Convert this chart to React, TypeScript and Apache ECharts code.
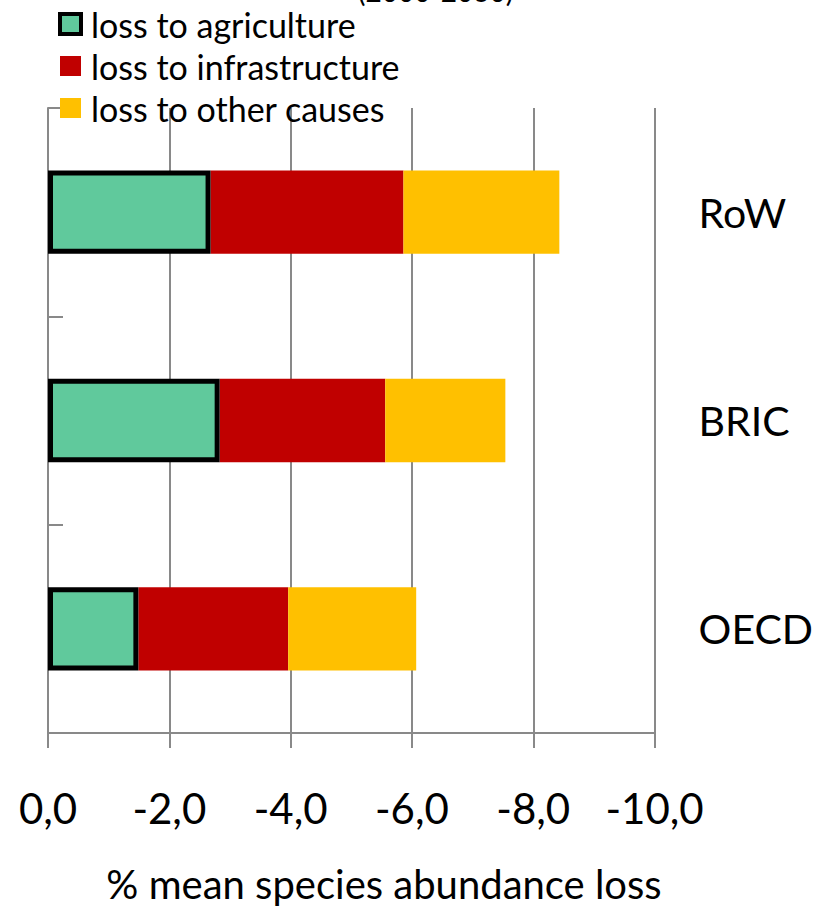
import React, { useEffect, useRef } from "react";
import * as echarts from "echarts";

const categories = ["OECD", "BRIC", "RoW"];
const seriesNames = ["loss to agriculture", "loss to infrastructure", "loss to other causes"];
const agriculture = [-1.49, -2.83, -2.68];
const infrastructure = [-2.47, -2.73, -3.18];
const otherCauses = [-2.11, -1.98, -2.57];
const xTicks = { min: -10, max: 0, interval: 2 };
const axisTitle = "% mean species abundance loss";
const chartTitle = "(2000-2030)";

const FONT = "Lato";
const GRAY = "#898989";

export default function App() {
  const ref = useRef<HTMLDivElement>(null);
  useEffect(() => {
    document.body.style.margin = "0";
    const chart = echarts.init(ref.current!, undefined, { renderer: "svg" });
    chart.setOption({
      animation: false,
      textStyle: { fontFamily: FONT, color: "#000" },
      legend: {
        orient: "vertical",
        left: 58,
        top: 7,
        padding: 0,
        itemWidth: 21,
        itemHeight: 20,
        itemGap: 8,
        icon: "rect",
        textStyle: { fontFamily: FONT, fontSize: 34, lineHeight: 34, color: "#000", padding: [0, 0, 0, 5] },
        data: [
          { name: seriesNames[0], itemStyle: { borderColor: "#000", borderWidth: 4 } },
          { name: seriesNames[1], itemStyle: { borderWidth: 0 } },
          { name: seriesNames[2], itemStyle: { borderWidth: 0 } },
        ],
      },
      grid: { left: 48, right: 157, top: 108, bottom: 176, containLabel: false },
      xAxis: {
        type: "value",
        min: xTicks.min,
        max: xTicks.max,
        interval: xTicks.interval,
        inverse: true,
        axisLine: { show: true, lineStyle: { color: GRAY, width: 2 } },
        axisTick: { show: true, length: 15, lineStyle: { color: GRAY, width: 2 } },
        splitLine: { show: true, lineStyle: { color: GRAY, width: 2 } },
        axisLabel: {
          fontFamily: FONT,
          fontSize: 42,
          color: "#000",
          margin: 54,
          formatter: (v: number) => v.toFixed(1).replace(".", ","),
        },
      },
      yAxis: [
        {
          type: "category",
          data: categories,
          position: "left",
          axisLine: { show: true, lineStyle: { color: GRAY, width: 2 } },
          axisTick: { show: true, inside: true, length: 15, lineStyle: { color: GRAY, width: 2 } },
          axisLabel: { show: false },
          splitLine: { show: false },
        },
        {
          type: "category",
          data: categories,
          position: "right",
          axisLine: { show: false },
          axisTick: { show: false },
          splitLine: { show: false },
          axisLabel: { fontFamily: FONT, fontSize: 41, color: "#000", margin: 44 },
        },
      ],
      series: [
        {
          name: seriesNames[0],
          type: "bar",
          stack: "loss",
          data: agriculture,
          barWidth: "40%",
          z: 3,
          itemStyle: { color: "#60C99C", borderColor: "#000", borderWidth: 5 },
        },
        {
          name: seriesNames[1],
          type: "bar",
          stack: "loss",
          data: infrastructure,
          barWidth: "40%",
          itemStyle: { color: "#C00000" },
        },
        {
          name: seriesNames[2],
          type: "bar",
          stack: "loss",
          data: otherCauses,
          barWidth: "40%",
          itemStyle: { color: "#FFC000" },
        },
      ],
      graphic: [
        {
          type: "text",
          left: 358,
          top: -23,
          style: { text: chartTitle, font: `28px ${FONT}`, fill: "#000" },
        },
        {
          type: "text",
          x: 384,
          y: 884,
          style: {
            text: axisTitle,
            font: `40px ${FONT}`,
            fill: "#000",
            align: "center",
            verticalAlign: "middle",
          },
        },
      ],
    });
    return () => chart.dispose();
  }, []);
  return <div ref={ref} style={{ width: 816, height: 909 }} />;
}
